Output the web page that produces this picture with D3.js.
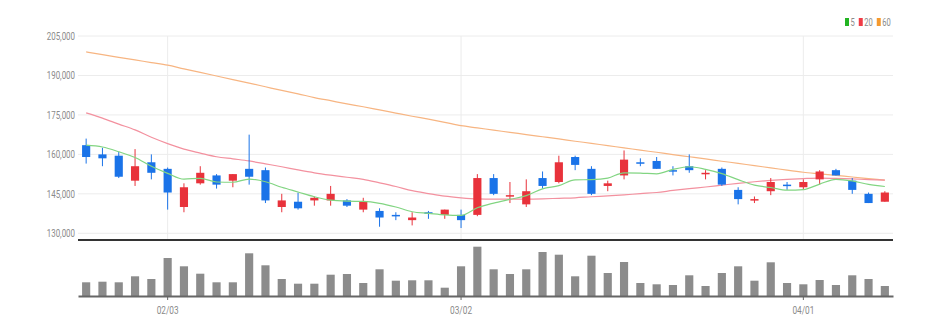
<!DOCTYPE html>
<html>
<head>
<meta charset="utf-8">
<script src="https://cdn.jsdelivr.net/npm/d3@7"></script>
<style>
  html, body { margin: 0; padding: 0; background: #fff; }
  svg { display: block; }
  .lbl { font-family: "Roboto", "Liberation Sans", sans-serif; font-size: 11px; fill: #8a8a8a; }
</style>
</head>
<body>
<svg id="chart" width="941" height="333"></svg>
<script>
// Trading days, Jan 24 – Apr 8
const dates = [
  "01/24","01/25","01/26","01/27","01/28","02/03","02/04","02/07","02/08","02/09",
  "02/10","02/11","02/14","02/15","02/16","02/17","02/18","02/21","02/22","02/23",
  "02/24","02/25","02/28","03/02","03/03","03/04","03/07","03/08","03/10","03/11",
  "03/14","03/15","03/16","03/17","03/18","03/21","03/22","03/23","03/24","03/25",
  "03/28","03/29","03/30","03/31","04/01","04/04","04/05","04/06","04/07","04/08"
];
const opens = [
  163500,160000,159500,150000,157000,154500,140000,149000,152000,150000,
  154500,154000,140000,142000,142500,142500,142500,139000,138500,137000,
  135000,138000,137000,137000,137000,151000,144000,141000,151000,149500,
  159000,154500,148000,152000,157000,157500,154000,155500,152500,154500,
  146500,142500,146000,148500,147500,150500,154000,150000,145000,142000
];
const highs = [
  166000,162500,161000,162000,160000,155000,149000,155500,152500,152500,
  167500,155000,145000,145500,144000,148000,143000,143500,139500,138000,
  138000,138500,139000,139000,152500,152500,149500,150500,153500,159500,
  159500,155500,150000,161500,158500,159000,155500,160000,154000,155000,
  147500,144000,151000,149500,150500,154000,154500,151000,145500,146000
];
const lows = [
  156500,155500,151000,148000,150500,139000,138000,148500,147000,147500,
  148500,141500,138000,139000,140500,140500,140000,138000,132500,135000,
  133000,135500,135500,132000,136500,144500,141500,140000,147000,149000,
  154000,144500,146000,150500,155500,154500,152000,153000,150500,148000,
  141000,141500,144500,146500,146500,148500,152000,145000,141500,142000
];
const closes = [
  159000,158500,151500,155500,153000,145500,147500,153000,148500,152500,
  151500,142500,142500,139500,143500,145000,140500,142000,136000,136500,
  136000,137500,139000,135000,151000,145000,144500,146000,148000,157000,
  156000,145000,149000,158000,156500,154500,153500,154000,153000,148500,
  143000,143000,149500,148000,149500,153500,152000,146500,141500,145500
];
const volumes = [
  137000,143000,137000,197000,170000,380000,297000,223000,137000,137000,
  427000,307000,170000,123000,123000,213000,220000,130000,267000,153000,
  157000,157000,83000,297000,493000,267000,220000,267000,440000,413000,
  197000,403000,230000,340000,130000,117000,110000,207000,100000,230000,
  297000,153000,337000,130000,117000,160000,110000,207000,170000,100000
];
const ma5 = [
  163500,162800,161000,158800,155500,152800,150600,150900,149500,149400,
  150600,149600,147500,145700,143900,142600,142200,142100,141400,140000,
  138200,137600,137000,136800,139700,141500,142900,144300,146900,148100,
  150300,150400,151000,153000,152900,152600,154300,155300,154300,152700,
  150400,148300,147400,146400,146600,148700,150500,149900,148600,147800
];
const ma20 = [
  175800,173800,171500,169300,166500,164100,162000,160500,159100,158300,
  157500,156400,155300,154100,153000,152100,151300,150500,149200,147800,
  146200,145100,144100,143500,143100,143000,143000,143000,143100,143300,
  143500,143900,144200,144600,145100,145500,146300,147000,147600,148300,
  149000,149600,150100,150500,150800,151000,150900,150700,150400,150200
];
const ma60 = [
  198950,197900,196900,195900,194900,193900,192500,191200,189800,188400,
  187100,185700,184300,183000,181600,180400,179200,178100,176900,175700,
  174500,173400,172200,170900,170100,169200,168400,167500,166700,165900,
  165000,164200,163300,162500,161600,160800,159900,159100,158300,157400,
  156600,155700,154900,154000,153200,152600,152000,151400,150800,150200
];
const priceTicks = [130000, 145000, 160000, 175000, 190000, 205000];
const dateTicks = ["02/03", "03/02", "04/01"];
const legendItems = [
  { label: "5",  color: "#22b422" },
  { label: "20", color: "#f03c46" },
  { label: "60", color: "#f59a2e" }
];

const svg = d3.select("#chart");
const left = 78, right = 893;
const priceTop = 36, priceBottom = 233.3;
const volTop = 240, volBottom = 296;

// squeeze a label horizontally so it sets narrow
function condense(sel, k) {
  sel.each(function () {
    const w = this.getComputedTextLength();
    d3.select(this).attr("textLength", w * k).attr("lengthAdjust", "spacingAndGlyphs");
  });
}

const x = d3.scaleBand().domain(dates).range([left, right]).paddingInner(0.5).paddingOuter(0.25);
const cx = d => x(d) + x.bandwidth() / 2;
const y = d3.scaleLinear().domain([130000, 205000]).range([priceBottom, priceTop]);
const yv = d3.scaleLinear().domain([0, 560000]).range([volBottom, volTop]);

const upColor = "#e8323b", downColor = "#1a73e8";

// horizontal grid
svg.append("g").selectAll("line").data(priceTicks).join("line")
  .attr("x1", left).attr("x2", right)
  .attr("y1", d => y(d)).attr("y2", d => y(d))
  .attr("stroke", "#ececec").attr("stroke-width", 1);

// vertical grid at date ticks
svg.append("g").selectAll("line").data(dateTicks).join("line")
  .attr("x1", d => cx(d)).attr("x2", d => cx(d))
  .attr("y1", priceTop).attr("y2", volTop)
  .attr("stroke", "#ececec").attr("stroke-width", 1);

// price axis labels
const yAxis = d3.axisLeft(y).tickValues(priceTicks).tickFormat(d3.format(",")).tickSize(0).tickPadding(3);
const gy = svg.append("g").attr("transform", `translate(${left},0)`).call(yAxis);
gy.select(".domain").remove();
gy.selectAll("text").attr("class", "lbl").attr("font-family", null).attr("font-size", null).attr("fill", null)
  .call(condense, 0.72);

// moving averages
const line = arr => d3.line().x((d, i) => cx(dates[i])).y(d => y(d)).curve(d3.curveMonotoneX)(arr);
svg.append("path").attr("d", line(ma60)).attr("fill", "none").attr("stroke", "#f7b582").attr("stroke-width", 1.2);
svg.append("path").attr("d", line(ma20)).attr("fill", "none").attr("stroke", "#f3919f").attr("stroke-width", 1.2);

// candles
const idx = d3.range(dates.length);
const cg = svg.append("g");
cg.selectAll("line").data(idx).join("line")
  .attr("x1", i => cx(dates[i])).attr("x2", i => cx(dates[i]))
  .attr("y1", i => y(highs[i])).attr("y2", i => y(lows[i]))
  .attr("stroke", i => closes[i] >= opens[i] ? upColor : downColor).attr("stroke-width", 1);
cg.selectAll("rect").data(idx).join("rect")
  .attr("x", i => x(dates[i])).attr("width", x.bandwidth())
  .attr("y", i => y(Math.max(opens[i], closes[i])))
  .attr("height", i => Math.max(1.5, Math.abs(y(opens[i]) - y(closes[i]))))
  .attr("fill", i => closes[i] >= opens[i] ? upColor : downColor);

svg.append("path").attr("d", line(ma5)).attr("fill", "none").attr("stroke", "#82d582").attr("stroke-width", 1.2);

// pane separator
svg.append("line").attr("x1", left).attr("x2", right).attr("y1", volTop).attr("y2", volTop)
  .attr("stroke", "#333").attr("stroke-width", 2);

// volume bars
svg.append("g").selectAll("rect").data(idx).join("rect")
  .attr("x", i => x(dates[i])).attr("width", x.bandwidth())
  .attr("y", i => yv(volumes[i])).attr("height", i => volBottom - yv(volumes[i]))
  .attr("fill", "#8c8c8c");

// date axis
const xAxis = d3.axisBottom(x).tickValues(dateTicks).tickSize(4).tickPadding(6).tickSizeOuter(0);
const gx = svg.append("g").attr("transform", `translate(0,${volBottom})`).call(xAxis);
gx.select(".domain").attr("stroke", "#666").attr("stroke-width", 2);
gx.selectAll(".tick line").attr("stroke", "#666");
gx.selectAll("text").attr("class", "lbl").attr("font-family", null).attr("font-size", null).attr("fill", null)
  .call(condense, 0.75);

// legend
const lg = svg.append("g").attr("transform", "translate(845,18)");
let lx = 0;
legendItems.forEach(it => {
  lg.append("rect").attr("x", lx).attr("y", 0).attr("width", 4).attr("height", 8).attr("fill", it.color);
  const t = lg.append("text").attr("class", "lbl").attr("x", lx + 5.5).attr("y", 8).style("font-size", "10.5px").text(it.label);
  const w = t.node().getComputedTextLength() * 0.72;
  t.attr("textLength", w).attr("lengthAdjust", "spacingAndGlyphs");
  lx += 5.5 + w + 4;
});
</script>
</body>
</html>
